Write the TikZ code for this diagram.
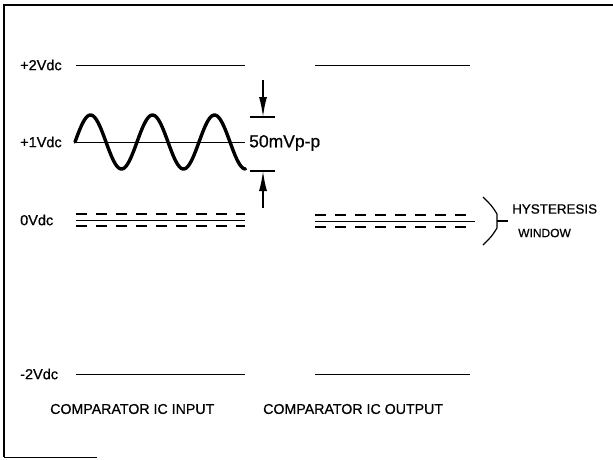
\documentclass[tikz,border=0pt]{standalone}
\usepackage{fontspec}
\setmainfont{Liberation Sans}
\newfontfamily\lblfont{Liberation Sans}[FakeBold=0.7]
\usetikzlibrary{arrows.meta}
\begin{document}
\begin{tikzpicture}[x=1pt,y=-1pt,
  lvl/.style={anchor=west,inner sep=0pt,font=\lblfont\fontsize{14.5}{15}\selectfont},
  captext/.style={anchor=west,inner sep=0pt,font=\lblfont\fontsize{14.2}{15}\selectfont},
  refln/.style={line width=0.9pt},
  dshln/.style={line width=1.2pt,dash pattern=on 11pt off 9pt},
  sigln/.style={line width=3.4pt,line cap=round},
  arrln/.style={line width=1.6pt,-{Latex[length=20pt,width=8pt]}},
  tickln/.style={line width=1.6pt},
  frameln/.style={line width=1.6pt}]
\useasboundingbox (0,0) rectangle (613,459);
% frame
\coordinate (fTR) at (613,5);
\coordinate (fTL) at (4,5);
\coordinate (fBL) at (4,457);
\coordinate (fBR) at (97,457);
\draw[frameln] (fTR) -- (fTL) -- (fBL);
\draw[line width=0.8pt] (fBL) -- (fBR);
% level labels
\node[lvl] (l2) at (20,65) {+2Vdc};
\node[lvl] (l1) at (20,142) {+1Vdc};
\node[lvl] (l0) at (20,220) {0Vdc};
\node[lvl] (lm2) at (20,374) {-2Vdc};
% left reference lines
\coordinate (a2s) at (76,65);  \coordinate (a2e) at (245,65);
\coordinate (a1s) at (75,142); \coordinate (a1e) at (245,142);
\coordinate (am2s) at (76,374); \coordinate (am2e) at (245,374);
\draw[refln] (a2s) -- (a2e);
\draw[refln] (a1s) -- (a1e);
\draw[refln] (am2s) -- (am2e);
% right reference lines
\coordinate (b2s) at (315,65);  \coordinate (b2e) at (470,65);
\coordinate (bm2s) at (315,374); \coordinate (bm2e) at (470,374);
\draw[refln] (b2s) -- (b2e);
\draw[refln] (bm2s) -- (bm2e);
% 0 V lines (left)
\coordinate (a0us) at (76,214); \coordinate (a0ue) at (245,214);
\coordinate (a0ms) at (76,220); \coordinate (a0me) at (245,220);
\coordinate (a0ls) at (76,226); \coordinate (a0le) at (245,226);
\draw[dshln] (a0us) -- (a0ue);
\draw[refln] (a0ms) -- (a0me);
\draw[dshln] (a0ls) -- (a0le);
% 0 V lines (right)
\coordinate (b0us) at (315,215); \coordinate (b0ue) at (475,215);
\coordinate (b0ms) at (315,221); \coordinate (b0me) at (475,221);
\coordinate (b0ls) at (315,227); \coordinate (b0le) at (475,227);
\draw[dshln] (b0us) -- (b0ue);
\draw[refln] (b0ms) -- (b0me);
\draw[dshln] (b0ls) -- (b0le);
% sine wave
\draw[sigln] plot[domain=0:2.75,samples=120,smooth] ({75+62*\x},{142-27*sin(360*\x)});
% amplitude marks
\coordinate (tuL) at (250,117); \coordinate (tuR) at (275,117);
\coordinate (tlL) at (250,171); \coordinate (tlR) at (275,171);
\draw[tickln] (tuL) -- (tuR);
\draw[tickln] (tlL) -- (tlR);
\coordinate (auS) at (263,80);  \coordinate (auT) at (263,117);
\coordinate (alS) at (263,208); \coordinate (alT) at (263,171);
\draw[arrln] (auS) -- (auT);
\draw[arrln] (alS) -- (alT);
\node[anchor=west,inner sep=0pt,font=\lblfont\fontsize{17.5}{18}\selectfont] (amp) at (249,143) {50mVp-p};
% hysteresis bracket
\coordinate (hb1) at (483,197);
\coordinate (hb2) at (497,214);
\coordinate (hb3) at (497,228);
\coordinate (hb4) at (483,245);
\coordinate (hm) at (497,221);
\coordinate (ht) at (508,221);
\draw[line width=1.2pt] (hb1) .. controls (492,206) .. (hb2) -- (hb3) .. controls (492,236) .. (hb4);
\draw[line width=1.2pt] (hm) -- (ht);
\node[anchor=west,inner sep=0pt,font=\lblfont\fontsize{13.4}{14}\selectfont] (hys) at (512,209) {HYSTERESIS};
\node[anchor=west,inner sep=0pt,font=\lblfont\fontsize{12}{13}\selectfont] (win) at (518,233) {WINDOW};
% captions
\node[captext] (cin) at (50,409) {COMPARATOR IC INPUT};
\node[captext] (cout) at (263,409) {COMPARATOR IC OUTPUT};
\end{tikzpicture}
\end{document}
